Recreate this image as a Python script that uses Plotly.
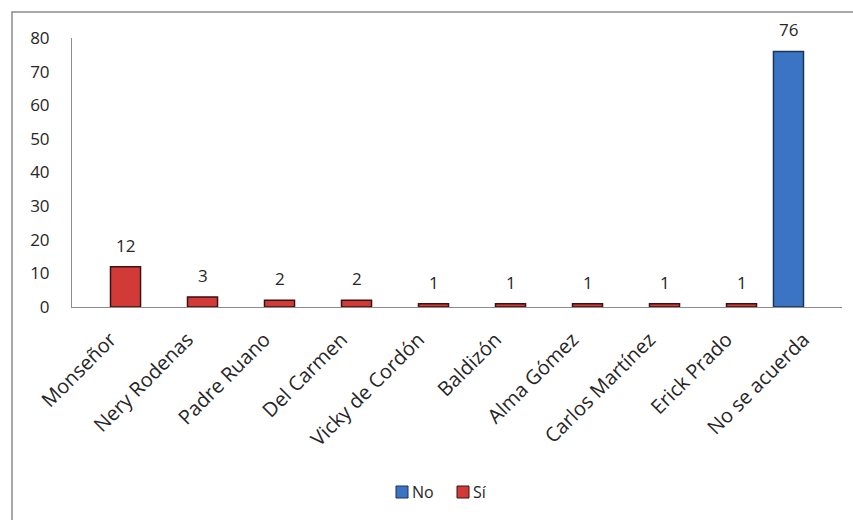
import plotly.graph_objects as go

# Respuestas por persona mencionada
categorias = ["Monseñor", "Nery Rodenas", "Padre Ruano", "Del Carmen", "Vicky de Cordón",
              "Baldizón", "Alma Gómez", "Carlos Martínez", "Erick Prado", "No se acuerda"]
valores_no = [None, None, None, None, None, None, None, None, None, 76]
valores_si = [12, 3, 2, 2, 1, 1, 1, 1, 1, None]

series = [
    ("No", valores_no, "#3A74C2", "#1C3556"),
    ("Sí", valores_si, "#D23A38", "#3A1212"),
]

FONT = "Open Sans"
TXT = "#262626"
W, H = 853, 520
ML, MR, MT, MB = 72, 11, 38, 213
PW, PH = W - ML - MR, H - MT - MB


def px_x(p):
    return (p - ML) / PW


def px_y(p):
    return (H - MB - p) / PH


fig = go.Figure()
for nombre, vals, color, borde in series:
    fig.add_trace(go.Bar(
        name=nombre, x=categorias, y=vals, showlegend=False,
        marker=dict(color=color, line=dict(color=borde, width=1.5)),
    ))

# Etiquetas de valor sobre cada barra
annotations = []
for (nombre, vals, _, _), desplaz in zip(series, (-15.4, 15.4)):
    for cat, v in zip(categorias, vals):
        if v is None:
            continue
        annotations.append(dict(
            x=cat, y=v, text=str(v), showarrow=False, xshift=desplaz, yshift=8,
            yanchor="bottom", font=dict(family=FONT, size=17, color=TXT),
        ))

# Leyenda compacta al pie
shapes = []
for (nombre, _, color, borde), x0 in zip(series, (396, 457)):
    shapes.append(dict(
        type="rect", xref="paper", yref="paper",
        x0=px_x(x0), x1=px_x(x0 + 12), y0=px_y(498), y1=px_y(486),
        fillcolor=color, line=dict(color=borde, width=1),
    ))
    annotations.append(dict(
        x=px_x(x0 + 14), y=px_y(492), xref="paper", yref="paper", text=nombre,
        showarrow=False, xanchor="left", yanchor="middle",
        font=dict(family=FONT, size=16, color=TXT),
    ))

# Marco del gráfico
shapes.append(dict(
    type="rect", xref="paper", yref="paper",
    x0=px_x(12), x1=px_x(W + 20), y0=px_y(H + 20), y1=px_y(12),
    line=dict(color="#8C8C8C", width=1.5), fillcolor="rgba(0,0,0,0)", layer="below",
))

fig.update_layout(
    width=W, height=H,
    margin=dict(l=ML, r=MR, t=MT, b=MB),
    paper_bgcolor="white", plot_bgcolor="white",
    barmode="group", bargap=0.22, bargroupgap=0,
    font=dict(family=FONT, size=16, color=TXT),
    annotations=annotations,
    shapes=shapes,
    xaxis=dict(
        tickangle=-45, showgrid=False, showline=True, linecolor="#8C8C8C", linewidth=1,
        ticks="", tickfont=dict(family=FONT, size=20, color=TXT), ticklabelstandoff=12,
    ),
    yaxis=dict(
        range=[0, 80], dtick=10, showgrid=False, showline=True, linecolor="#8C8C8C",
        linewidth=1, ticks="", zeroline=False, ticklabelstandoff=18,
        tickfont=dict(family=FONT, size=17, color=TXT),
    ),
)

fig.write_html("out.html")
